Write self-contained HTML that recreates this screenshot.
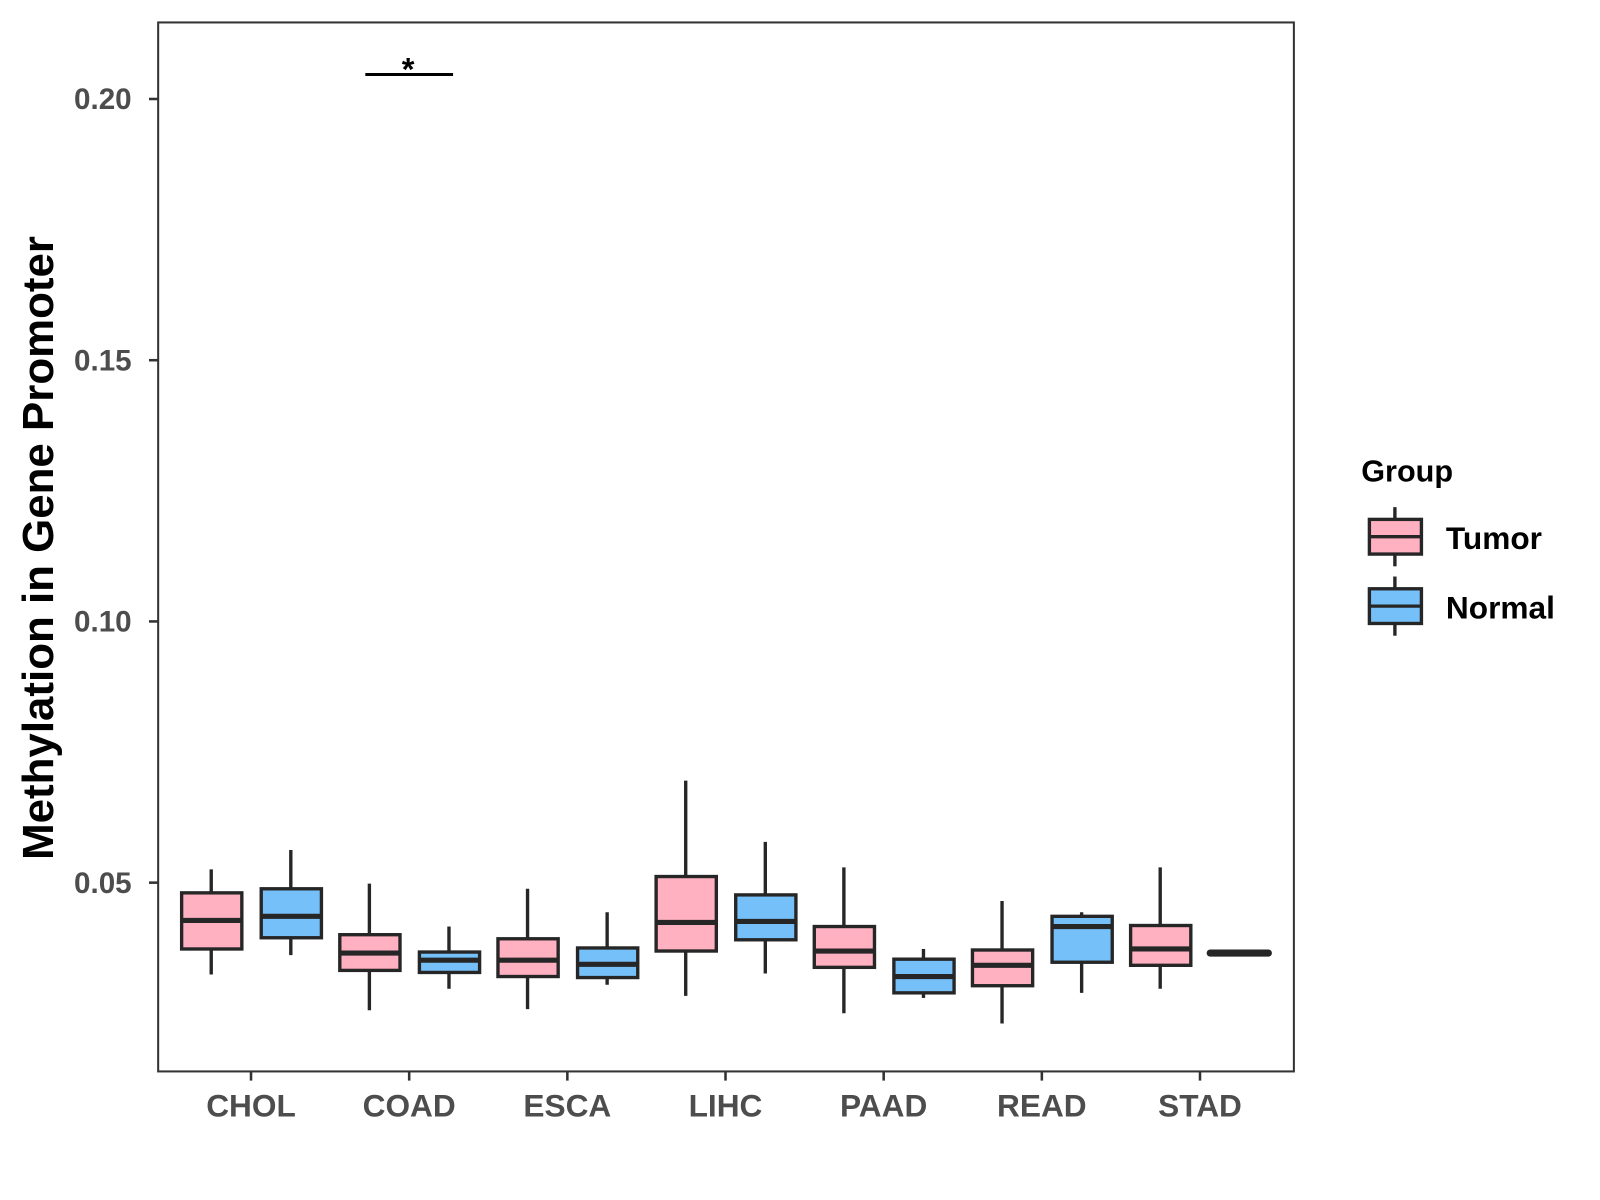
<!DOCTYPE html>
<html><head><meta charset="utf-8"><style>html,body{margin:0;padding:0;background:#fff}svg{display:block}</style></head>
<body>
<svg xmlns="http://www.w3.org/2000/svg" width="1600" height="1200" viewBox="0 0 1568 1176" font-family="Liberation Sans, Arial, sans-serif" font-weight="bold">
<rect x="0" y="0" width="1568" height="1176" fill="#fff"/>
<rect x="155" y="22" width="1113" height="1028" fill="none" stroke="#333" stroke-width="2"/>
<g stroke="#333" stroke-width="2.5">
<line x1="146" y1="97" x2="155" y2="97"/><line x1="146" y1="353" x2="155" y2="353"/>
<line x1="146" y1="609" x2="155" y2="609"/><line x1="146" y1="865" x2="155" y2="865"/>
<line x1="246" y1="1050" x2="246" y2="1059"/><line x1="401" y1="1050" x2="401" y2="1059"/>
<line x1="556" y1="1050" x2="556" y2="1059"/><line x1="711" y1="1050" x2="711" y2="1059"/>
<line x1="866" y1="1050" x2="866" y2="1059"/><line x1="1021" y1="1050" x2="1021" y2="1059"/>
<line x1="1176" y1="1050" x2="1176" y2="1059"/>
</g>
<g fill="#4d4d4d" font-size="29" text-anchor="end">
<text x="129" y="107">0.20</text><text x="129" y="363">0.15</text>
<text x="129" y="619">0.10</text><text x="129" y="875">0.05</text>
</g>
<g fill="#4d4d4d" font-size="31" text-anchor="middle">
<text x="246" y="1094">CHOL</text><text x="401" y="1094">COAD</text><text x="556" y="1094">ESCA</text>
<text x="711" y="1094">LIHC</text><text x="866" y="1094">PAAD</text><text x="1021" y="1094">READ</text>
<text x="1176" y="1094">STAD</text>
</g>
<text transform="translate(52,537) rotate(-90)" font-size="43" text-anchor="middle" fill="#000">Methylation in Gene Promoter</text>
<line x1="358" y1="73" x2="444" y2="73" stroke="#000" stroke-width="3"/>
<text x="400" y="79" font-size="32" text-anchor="middle" fill="#000">*</text>
<g stroke="#262626" stroke-width="3.3">
<line x1="207" y1="852" x2="207" y2="955"/><rect x="178" y="875" width="59" height="55" fill="#FFB0C1"/><line x1="178" y1="902" x2="237" y2="902" stroke-width="5"/>
<line x1="285" y1="833" x2="285" y2="936"/><rect x="256" y="871" width="59" height="48" fill="#75C0F8"/><line x1="256" y1="898" x2="315" y2="898" stroke-width="5"/>
<line x1="362" y1="866" x2="362" y2="990"/><rect x="333" y="916" width="59" height="35" fill="#FFB0C1"/><line x1="333" y1="934" x2="392" y2="934" stroke-width="5"/>
<line x1="440" y1="908" x2="440" y2="969"/><rect x="411" y="933" width="59" height="20" fill="#75C0F8"/><line x1="411" y1="941" x2="470" y2="941" stroke-width="5"/>
<line x1="517" y1="871" x2="517" y2="989"/><rect x="488" y="920" width="59" height="37" fill="#FFB0C1"/><line x1="488" y1="941" x2="547" y2="941" stroke-width="5"/>
<line x1="595" y1="894" x2="595" y2="965"/><rect x="566" y="929" width="59" height="29" fill="#75C0F8"/><line x1="566" y1="945" x2="625" y2="945" stroke-width="5"/>
<line x1="672" y1="765" x2="672" y2="976"/><rect x="643" y="859" width="59" height="73" fill="#FFB0C1"/><line x1="643" y1="904" x2="702" y2="904" stroke-width="5"/>
<line x1="750" y1="825" x2="750" y2="954"/><rect x="721" y="877" width="59" height="44" fill="#75C0F8"/><line x1="721" y1="903" x2="780" y2="903" stroke-width="5"/>
<line x1="827" y1="850" x2="827" y2="993"/><rect x="798" y="908" width="59" height="40" fill="#FFB0C1"/><line x1="798" y1="932" x2="857" y2="932" stroke-width="5"/>
<line x1="905" y1="930" x2="905" y2="978"/><rect x="876" y="940" width="59" height="33" fill="#75C0F8"/><line x1="876" y1="957" x2="935" y2="957" stroke-width="5"/>
<line x1="982" y1="883" x2="982" y2="1003"/><rect x="953" y="931" width="59" height="35" fill="#FFB0C1"/><line x1="953" y1="946" x2="1012" y2="946" stroke-width="5"/>
<line x1="1060" y1="894" x2="1060" y2="973"/><rect x="1031" y="898" width="59" height="45" fill="#75C0F8"/><line x1="1031" y1="908" x2="1090" y2="908" stroke-width="5"/>
<line x1="1137" y1="850" x2="1137" y2="969"/><rect x="1108" y="907" width="59" height="39" fill="#FFB0C1"/><line x1="1108" y1="930" x2="1167" y2="930" stroke-width="5"/>
<line x1="1186" y1="934" x2="1243" y2="934" stroke-width="7" stroke-linecap="round"/>
</g>
<text x="1334" y="472" font-size="30" fill="#000">Group</text>
<g stroke="#262626" stroke-width="3.3">
<line x1="1367" y1="497" x2="1367" y2="555"/><rect x="1342" y="509" width="51" height="34" fill="#FFB0C1"/><line x1="1342" y1="526" x2="1393" y2="526"/>
<line x1="1367" y1="565" x2="1367" y2="623"/><rect x="1342" y="577" width="51" height="34" fill="#75C0F8"/><line x1="1342" y1="594" x2="1393" y2="594"/>
</g>
<text x="1417" y="538" font-size="31" fill="#000">Tumor</text>
<text x="1417" y="606" font-size="31" fill="#000">Normal</text>
</svg>
</body></html>
